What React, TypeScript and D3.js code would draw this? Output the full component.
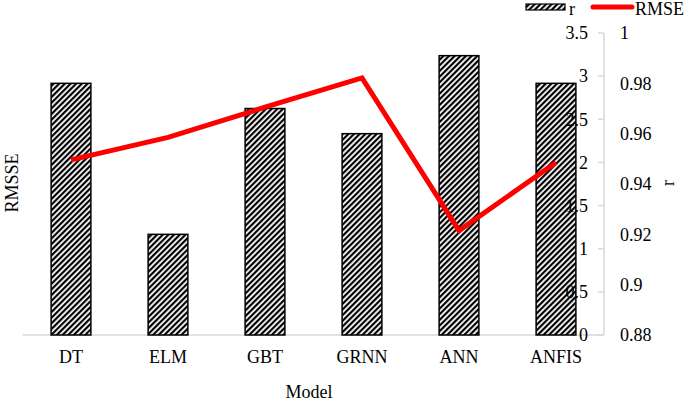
import React from "react";
import * as d3 from "d3";

const categories = ["DT", "ELM", "GBT", "GRNN", "ANN", "ANFIS"];
const rValues = [0.98, 0.92, 0.97, 0.96, 0.991, 0.98];
const rmseValues = [2.03, 2.29, 2.64, 2.98, 1.21, 2.0];
const rmseTicks = [0, 0.5, 1, 1.5, 2, 2.5, 3, 3.5];
const rTicks = [0.88, 0.9, 0.92, 0.94, 0.96, 0.98, 1];

const W = 685;
const H = 401;
const FONT = "'Liberation Serif', 'Times New Roman', serif";

export default function App() {
  const x = d3.scalePoint<string>().domain(categories).range([22.5, 604.5]).padding(0.5);
  const step = x.step();
  const barW = step * 0.41;
  const yRmse = d3.scaleLinear().domain([0, 3.5]).range([335, 33]);
  const yR = d3.scaleLinear().domain([0.88, 1]).range([335, 33]);
  const line = d3
    .line<number>()
    .x((_, i) => x(categories[i]) as number)
    .y((d) => yRmse(d))
    .curve(d3.curveLinear);
  const axisX = 604;

  return (
    <svg width={W} height={H} style={{ position: "absolute", left: 0, top: 0, background: "#fff" }} fontFamily={FONT}>
      <defs>
        <pattern id="hatch" patternUnits="userSpaceOnUse" width={4} height={4} patternTransform="rotate(45)">
          <rect width={4} height={4} fill="#fff" />
          <rect x={0} y={0} width={2.2} height={4} fill="#000" />
        </pattern>
      </defs>
      <line x1={22.5} x2={axisX} y1={335} y2={335} stroke="#d9d9d9" strokeWidth={1.5} />
      <line x1={axisX} x2={axisX} y1={33} y2={335} stroke="#d9d9d9" strokeWidth={1.5} />
      {rmseTicks.map((t) => (
        <line key={"tk" + t} x1={axisX - 6} x2={axisX} y1={yRmse(t)} y2={yRmse(t)} stroke="#d9d9d9" strokeWidth={1.5} />
      ))}
      {categories.map((c, i) => (
        <rect
          key={c}
          x={(x(c) as number) - barW / 2}
          y={yR(rValues[i])}
          width={barW}
          height={335 - yR(rValues[i])}
          fill="url(#hatch)"
          stroke="#000"
          strokeWidth={1.5}
        />
      ))}
      <path d={line(rmseValues) || ""} fill="none" stroke="#ff0000" strokeWidth={5} strokeLinejoin="miter" />
      {rmseTicks.map((t) => (
        <text key={"rl" + t} x={588} y={yRmse(t)} dy="0.35em" textAnchor="end" fontSize={18} fill="#000">
          {String(t)}
        </text>
      ))}
      {rTicks.map((t) => (
        <text key={"rt" + t} x={620} y={yR(t)} dy="0.35em" textAnchor="start" fontSize={18} fill="#000">
          {String(+t.toFixed(2))}
        </text>
      ))}
      {categories.map((c) => (
        <text key={"c" + c} x={x(c) as number} y={357} dy="0.35em" textAnchor="middle" fontSize={18} fill="#000">
          {c}
        </text>
      ))}
      <text x={309} y={392} dy="0.35em" textAnchor="middle" fontSize={18} fill="#000">
        Model
      </text>
      <text transform="translate(12,183) rotate(-90)" dy="0.35em" textAnchor="middle" fontSize={18} fill="#000">
        RMSSE
      </text>
      <text transform="translate(668,183) rotate(-90)" dy="0.35em" textAnchor="middle" fontSize={18} fill="#000">
        r
      </text>
      <rect x={526} y={4} width={39} height={6} fill="url(#hatch)" stroke="#000" strokeWidth={1.2} />
      <text x={569} y={9} dy="0.35em" fontSize={18} fill="#000">
        r
      </text>
      <line x1={593} x2={632} y1={7} y2={7} stroke="#ff0000" strokeWidth={5} strokeLinecap="round" />
      <text x={635} y={9} dy="0.35em" fontSize={18} fill="#000">
        RMSE
      </text>
    </svg>
  );
}
